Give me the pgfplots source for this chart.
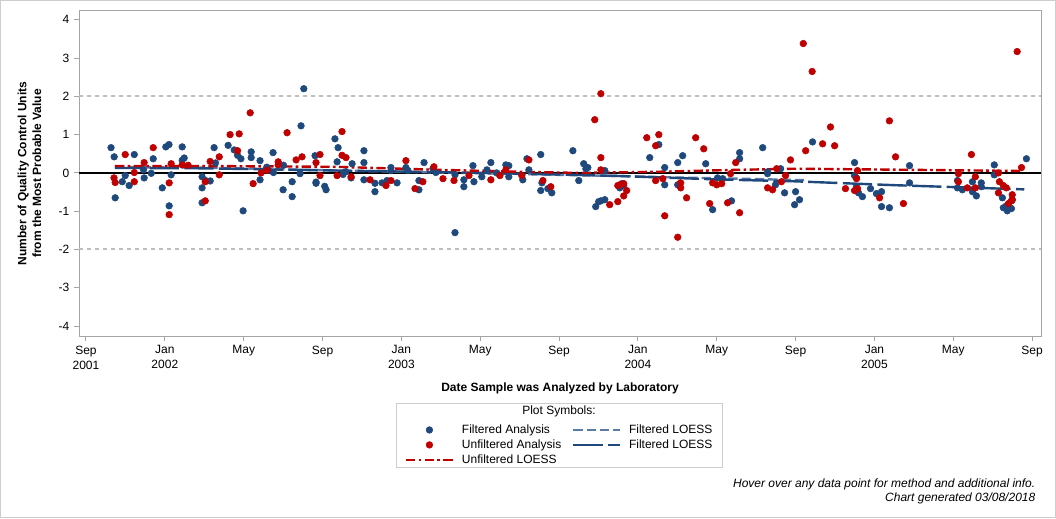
\documentclass[border=0pt]{standalone}
\usepackage{pgfplots}
\pgfplotsset{compat=1.18}
\usepackage{pgfplotstable}
\usepackage{fontspec}
\setmainfont{Liberation Sans}
\definecolor{fblue}{RGB}{31,73,125}
\definecolor{ured}{RGB}{192,0,0}
\definecolor{lblue}{RGB}{90,122,168}
\definecolor{refgray}{RGB}{190,190,190}
\definecolor{axgray}{RGB}{165,165,165}
\definecolor{framegray}{RGB}{205,205,205}

\pgfplotsset{
  mlegend/.style={legend image code/.code={\path[draw=none,fill=none] (0pt,-3pt) -- (35pt,3pt); \draw[##1] plot coordinates {(17.5pt,0pt)};}},
  llegend/.style={legend image code/.code={\draw[##1] (0pt,0pt) -- (35pt,0pt);}},
}

% x = months since Sep 2001, y = QC units
\pgfplotstableread{
x y
1.27 0.66
1.43 0.42
1.48 -0.65
1.84 -0.23
1.99 -0.07
2.19 -0.33
2.45 0.48
2.92 0.08
2.95 -0.13
3.31 -0.01
3.41 0.37
3.87 -0.39
4.05 0.68
4.21 0.74
4.22 -0.86
4.32 -0.05
4.88 0.68
4.88 0.33
4.98 0.39
5.89 -0.10
5.89 -0.39
5.89 -0.78
6.07 -0.20
6.30 -0.21
6.50 0.66
6.57 0.26
7.21 0.72
7.52 0.60
7.69 0.46
7.86 0.37
7.97 -0.99
8.38 0.55
8.38 0.40
8.83 0.32
8.83 -0.18
9.17 0.15
9.24 0.07
9.49 0.53
9.51 0.01
10.00 -0.44
10.02 0.20
10.46 -0.23
10.46 -0.62
10.86 -0.02
10.91 1.23
11.05 2.20
11.62 0.45
11.67 -0.24
11.67 -0.27
12.11 -0.35
12.18 -0.44
12.63 0.89
12.79 0.66
12.74 0.29
13.04 -0.04
13.18 0.03
13.45 -0.13
13.50 0.24
14.10 0.58
14.10 0.27
14.10 -0.18
14.66 -0.27
14.66 -0.49
15.02 -0.26
15.27 -0.20
15.47 0.14
15.47 0.06
15.78 -0.26
16.23 0.14
16.33 0.06
16.89 -0.20
16.89 -0.44
17.15 0.27
17.60 0.11
17.75 0.01
18.72 -0.05
18.72 -1.56
19.17 -0.18
19.17 -0.36
19.63 0.19
19.68 -0.23
20.08 -0.10
20.34 0.08
20.54 0.27
20.84 0.00
21.30 0.21
21.45 0.19
21.45 -0.10
22.16 -0.18
22.37 0.37
22.47 0.08
23.07 0.48
23.13 -0.26
23.07 -0.46
23.43 -0.41
23.63 -0.52
24.70 0.58
25.00 -0.20
25.25 0.24
25.36 0.11
25.46 0.14
25.86 -0.88
26.01 -0.75
26.12 -0.73
26.32 -0.70
26.32 0.06
27.08 -0.39
27.18 -0.28
27.28 -0.33
28.60 0.40
29.06 0.74
29.36 0.14
29.36 -0.31
30.02 0.27
30.02 -0.31
30.27 0.45
31.44 0.24
31.79 -0.96
32.04 -0.13
32.30 -0.15
32.75 -0.73
33.16 0.53
33.16 0.37
34.33 0.66
34.58 0.03
34.58 -0.02
34.98 -0.31
35.24 0.11
35.44 -0.52
35.95 -0.83
36.00 -0.49
36.20 -0.70
36.86 0.81
38.99 0.27
38.99 -0.07
39.09 -0.13
39.09 -0.36
39.19 -0.52
39.39 -0.62
39.80 -0.41
40.10 -0.54
40.36 -0.49
40.36 -0.88
40.76 -0.91
41.78 0.19
41.78 -0.26
44.21 -0.20
44.21 -0.39
44.46 -0.44
44.97 -0.23
44.97 -0.49
45.17 -0.60
45.42 -0.26
45.42 -0.36
46.08 0.21
46.08 -0.05
46.49 -0.65
46.54 -0.91
46.69 -0.86
46.74 -0.99
46.95 -0.93
46.99 -0.70
47.71 0.37
}\filtered

\pgfplotstableread{
x y
1.42 -0.13
1.48 -0.25
1.99 0.48
2.45 0.01
2.45 -0.23
2.95 0.27
3.41 0.66
4.22 -0.26
4.22 -1.09
4.32 0.24
4.88 0.21
5.18 0.20
6.05 -0.23
6.05 -0.73
6.30 0.30
6.76 0.42
6.76 -0.05
7.31 1.00
7.69 0.58
7.77 1.02
8.33 1.57
8.48 -0.28
8.88 0.00
9.19 0.07
9.75 0.29
9.75 0.21
10.20 1.05
10.66 0.34
10.96 0.42
11.67 0.27
11.87 0.48
11.87 -0.07
12.74 -0.07
12.99 1.08
12.99 0.46
13.19 0.40
13.45 -0.10
14.41 -0.18
15.22 -0.33
15.47 -0.20
16.23 0.32
16.69 -0.41
17.09 -0.23
17.65 0.16
18.11 -0.15
18.67 -0.20
19.43 -0.07
20.54 -0.18
21.00 -0.07
21.30 0.08
22.11 -0.07
22.47 0.34
23.18 -0.20
23.58 -0.36
25.81 1.39
26.12 2.07
26.12 0.40
26.12 0.08
26.57 -0.83
26.98 -0.33
26.98 -0.75
27.08 -0.31
27.28 -0.28
27.28 -0.60
27.43 -0.46
28.45 0.92
28.90 0.71
28.90 -0.20
29.06 1.00
29.26 -0.15
29.36 -1.12
30.02 -1.68
30.17 -0.26
30.17 -0.39
30.47 -0.65
30.93 0.92
31.34 0.63
31.64 -0.80
31.79 -0.26
32.00 -0.31
32.25 -0.28
32.55 -0.78
32.70 -0.02
32.96 0.27
33.16 -1.04
34.58 -0.39
34.83 -0.44
35.04 0.11
35.28 -0.23
35.49 -0.07
35.74 0.34
36.39 3.38
36.51 0.58
36.84 2.65
37.37 0.76
37.77 1.20
37.98 0.71
38.53 -0.41
38.99 -0.46
39.09 -0.15
39.14 -0.41
39.14 0.06
40.26 -0.65
40.76 1.36
41.07 0.42
41.47 -0.80
44.26 -0.02
44.26 -0.23
44.71 -0.39
44.92 0.48
45.12 -0.10
45.12 -0.39
46.29 0.00
46.29 -0.52
46.34 -0.23
46.54 -0.33
46.69 -0.39
46.80 -0.80
46.95 -0.73
46.99 -0.57
46.99 -0.70
47.24 3.17
47.46 0.14
}\unfiltered

\pgfplotstableread{
x y
1.47 0.15
6 0.14
13 0.06
18 0.01
24 -0.05
27 -0.08
30 -0.12
33 -0.15
36.5 -0.19
}\floessA

\pgfplotstableread{
x y
1.47 0.13
6 0.12
13 0.06
18 0.02
24 -0.04
27 -0.08
32 -0.17
36 -0.22
41 -0.32
47.6 -0.43
}\floessB

\pgfplotstableread{
x y
1.47 0.18
6 0.18
12.6 0.16
18 0.08
22 0.03
25 0.00
29 0.03
33 0.08
36 0.11
40 0.09
44 0.07
47.5 0.05
}\uloess

\begin{document}
\begin{tikzpicture}[x=0.75pt,y=0.75pt]
\useasboundingbox (0,0) rectangle (1056,518);
\draw[framegray, line width=0.75pt] (0.5,0.5) rectangle (1055.5,517.5);
\begin{axis}[
  at={(59.25pt,136.5pt)}, anchor=south west,
  scale only axis, width=721.5pt, height=243.75pt,
  xmin=-0.355, xmax=48.45, ymin=-4.26, ymax=4.23,
  axis line style={axgray, line width=0.75pt},
  tick style={axgray, line width=0.75pt},
  major tick length=3.75pt, tick align=outside, tick pos=left,
  xtick={0,4,...,48},
  xticklabels={{Sep\\2001},{Jan\\2002},May,Sep,{Jan\\2003},May,Sep,{Jan\\2004},May,Sep,{Jan\\2005},May,Sep},
  xticklabel style={align=center, font=\fontsize{9}{11.25}\selectfont},
  ytick={-4,-3,...,4},
  yticklabel style={font=\fontsize{9}{11}\selectfont},
  /pgf/number format/assume math mode=true,
  xlabel={Date Sample was Analyzed by Laboratory},
  xlabel style={font=\bfseries\fontsize{9}{11}\selectfont, at={(axis description cs:0.5,-0.16)}, anchor=center},
  ylabel={Number of Quality Control Units\\from the Most Probable Value},
  ylabel style={font=\bfseries\fontsize{9}{11}\selectfont, align=center, at={(axis description cs:-0.0515,0.5)}, anchor=center},
  legend columns=2,
  legend cell align=left,
  legend style={draw=none, fill=none, at={(axis description cs:0.5,-0.257)}, anchor=north,
    font=\fontsize{9}{11}\selectfont, row sep=0pt,
    nodes={inner ysep=1.6pt},
    /tikz/every odd column/.append style={column sep=4pt},
    /tikz/every even column/.append style={column sep=6pt}},
]
\addplot[refgray, line width=1.5pt, dash pattern=on 3pt off 3pt, forget plot] coordinates {(-0.355,2) (48.45,2)};
\addplot[refgray, line width=1.5pt, dash pattern=on 3pt off 3pt, forget plot] coordinates {(-0.355,-2) (48.45,-2)};
\addplot[black, line width=1.5pt, forget plot] coordinates {(-0.355,0) (48.45,0)};
\addplot[only marks, mark=*, mark size=2.5pt, fblue, forget plot] table {\filtered};
\addplot[only marks, mark=*, mark size=2.5pt, ured, forget plot] table {\unfiltered};
\addplot[lblue, line width=1.8pt, dash pattern=on 7pt off 3pt, forget plot] table {\floessA};
\addplot[fblue, line width=1.8pt, dash pattern=on 22pt off 4pt, forget plot] table {\floessB};
\addplot[ured, line width=1.8pt, dash pattern=on 7pt off 2.5pt on 2pt off 2.5pt, forget plot] table {\uloess};

\addlegendimage{only marks, mark=*, mark size=2.5pt, fblue, mlegend}
\addlegendentry{Filtered Analysis}
\addlegendimage{lblue, line width=1.8pt, dash pattern=on 7pt off 3pt, llegend}
\addlegendentry{Filtered LOESS}
\addlegendimage{only marks, mark=*, mark size=2.5pt, ured, mlegend}
\addlegendentry{Unfiltered Analysis}
\addlegendimage{fblue, line width=1.8pt, dash pattern=on 22pt off 4pt, llegend}
\addlegendentry{Filtered LOESS}
\addlegendimage{ured, line width=1.8pt, dash pattern=on 7pt off 2.5pt on 2pt off 2.5pt, llegend}
\addlegendentry{Unfiltered LOESS}
\end{axis}
\draw[framegray, line width=0.75pt] (396,115) rectangle (722,51);
\node[font=\fontsize{9}{11}\selectfont] at (559,107) {Plot Symbols:};
\node[anchor=east, font=\itshape\fontsize{9}{11}\selectfont] at (1040,34) {Hover over any data point for method and additional info.};
\node[anchor=east, font=\itshape\fontsize{9}{11}\selectfont] at (1040,20) {Chart generated 03/08/2018};
\end{tikzpicture}
\end{document}
